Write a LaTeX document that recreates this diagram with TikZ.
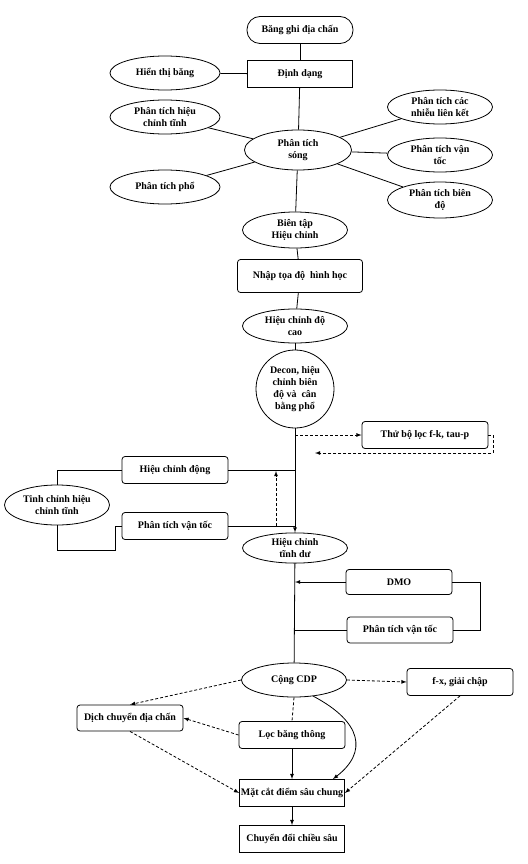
\documentclass[tikz,border=0pt]{standalone}
\usepackage{fontspec}
\setmainfont{Liberation Serif}
\usepackage{tikz}
\usetikzlibrary{arrows, shapes.geometric}
\usetikzlibrary{calc}

\tikzset{
    every node/.style={font=\fontsize{10}{12.2}\selectfont\bfseries, align=center, inner sep=1pt},
    ell/.style={draw, ellipse, minimum width=105pt, minimum height=34pt},
    rbox/.style={draw, rounded corners=3pt, minimum width=106pt, minimum height=27pt},
    sbox/.style={draw, rectangle, minimum width=105pt, minimum height=27pt},
    pill/.style={draw, rounded corners=13pt, minimum width=106pt, minimum height=27pt},
    dsh/.style={dashed, dash pattern=on 3pt off 2pt}
}

\begin{document}
\begin{tikzpicture}[x=1pt, y=-1pt, line width=0.8pt, >=latex]
        \useasboundingbox (0,0) rectangle (527,864);

        \node[pill] (bang) at (300,30) {Băng ghi địa chấn};
        \node[sbox] (dinhdang) at (300,74) {Định dạng};
        \node[ell, minimum width=110pt] (hienthi) at (165,73) {Hiển thị băng};
        \node[ell, minimum width=110pt] (pthct) at (165,117) {Phân tích hiệu\\chỉnh tĩnh};
        \node[ell, minimum width=107pt, minimum height=40pt] (song) at (298,150) {Phân tích\\sóng};
        \node[ell] (nhieu) at (440,107) {Phân tích các\\nhiễu liên kết};
        \node[ell] (vantoc) at (440,155) {Phân tích vận\\tốc};
        \node[ell, minimum width=110pt] (pho) at (165,187) {Phân tích phổ};
        \node[ell, minimum height=36pt] (biendo) at (440,200) {Phân tích biên\\độ};
        \node[ell, minimum height=36pt] (bientap) at (295,230) {Biên tập\\Hiệu chỉnh};
        \node[rbox, minimum width=125pt, minimum height=33pt] (nhap) at (300,276) {Nhập tọa độ~ hình học};
        \node[ell] (docao) at (295,326) {Hiệu chỉnh độ\\cao};
        \node[draw, circle, minimum size=78pt, inner sep=0pt] (decon) at (295,389) {Decon, hiệu\\chỉnh biên\\độ và~ cân\\bằng phổ};

        \node[rbox, minimum width=126pt] (thubo) at (425,435) {Thử bộ lọc f-k, tau-p};
        \node[rbox] (hcdong) at (175,470) {Hiệu chỉnh động};
        \node[ell, minimum height=40pt] (tinhchinh) at (57,505) {Tinh chỉnh hiệu\\chỉnh tĩnh};
        \node[rbox] (vantocb) at (175,526) {Phân tích vận tốc};
        \node[ell, minimum height=29pt] (tinhdu) at (295,548) {Hiệu chỉnh\\tĩnh dư};
        \node[rbox, minimum height=25pt] (dmo) at (399,582) {DMO};
        \node[rbox, minimum height=26pt] (vantocc) at (400,630) {Phân tích vận tốc};

        \node[ell] (cong) at (294,680) {Cộng CDP};
        \node[rbox] (fx) at (460,682) {f-x, giải chập};
        \node[rbox, minimum height=26pt] (dich) at (130,718) {Dịch chuyển địa chấn};
        \node[rbox] (loc) at (292,735) {Lọc băng thông};
        \node[sbox] (matcat) at (292,793) {Mặt cắt điểm sâu chung};
        \node[sbox] (chuyen) at (292,839) {Chuyển đổi chiều sâu};

        \draw (bang) -- (dinhdang);
        \draw (hienthi) -- (dinhdang);
        \draw (dinhdang) -- (song);
        \draw (song) -- (pthct);
        \draw (song) -- (pho);
        \draw (song) -- (nhieu);
        \draw (song) -- (vantoc);
        \draw (song) -- (biendo);
        \draw (song) -- (bientap);
        \draw (bientap) -- (nhap);
        \draw (nhap) -- (docao);
        \draw (docao) -- (decon);

        \draw[->] (decon) -- (tinhdu);
        \draw[dsh, ->] (decon.south |- thubo.west) -- (thubo.west);
        \coordinate (ret) at (315,453);
        \draw[dsh, ->] (thubo.east) -- ++(5,0) |- (ret);
        \draw (hcdong.east) -- (hcdong.east -| decon.south);
        \draw (vantocb.east) -- (vantocb.east -| decon.south);
        \coordinate (up1) at (276,526);
        \coordinate (up2) at (276,471);
        \draw[dsh, ->] (up1) -- (up2);
        \draw (tinhchinh.north) |- (hcdong.west);
        \coordinate (k1) at (115,550);
        \draw (tinhchinh.south) |- (k1) |- (vantocb.west);

        \draw (tinhdu) -- (cong);
        \draw[->] (dmo.west) -- (dmo.west -| tinhdu.south);
        \draw (vantocc.west) -- (vantocc.west -| tinhdu.south);
        \draw (dmo.east) -- ++(28,0) |- (vantocc.east);

        \draw[dsh, ->] (cong.west) -- (dich.north);
        \draw[dsh, ->] (cong.east) -- (fx.west);
        \draw[dsh] (cong.south) -- (loc.north);
        \draw[dsh, ->] (loc.west) -- (dich.east);
        \draw[->] (cong.-40) .. controls (362,722) and (368,752) .. ([xshift=-12pt]matcat.north east);
        \draw[->] (loc) -- (matcat);
        \draw[dsh, ->] (dich.south) -- (matcat.west);
        \draw[dsh, ->] (fx.south) -- (matcat.east);
        \draw[->] (matcat) -- (chuyen);

    \end{tikzpicture}
\end{document}
